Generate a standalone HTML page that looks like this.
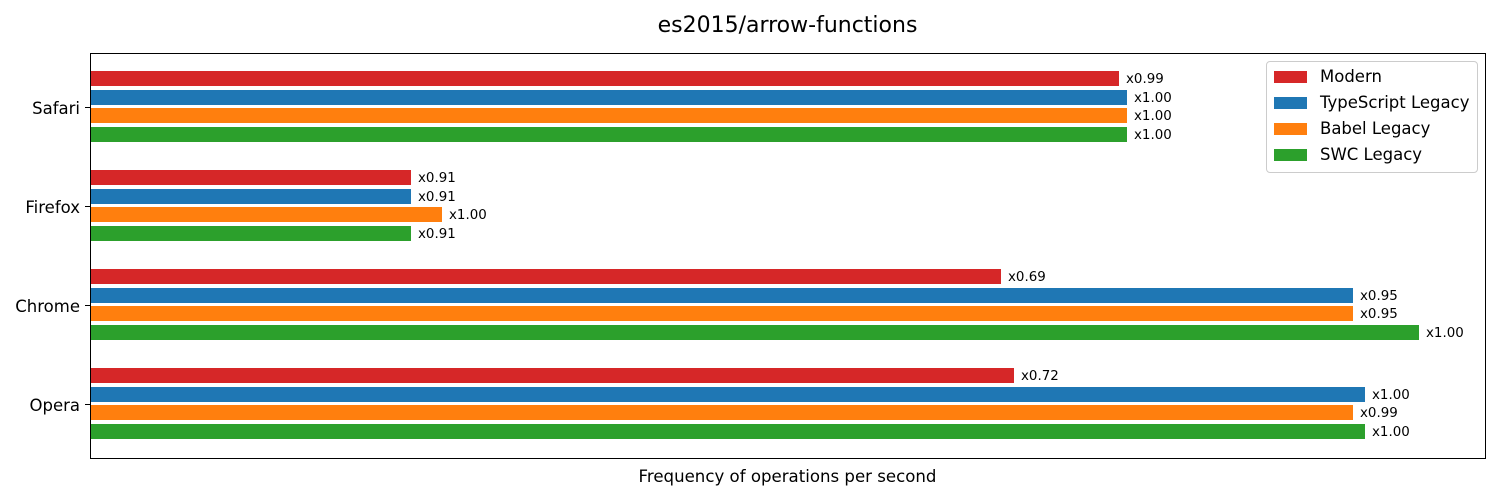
<!DOCTYPE html>
<html><head><meta charset="utf-8"><style>
body{margin:0;width:1500px;height:500px;background:#fff;position:relative;overflow:hidden;font-family:"DejaVu Sans","Liberation Sans",sans-serif;color:#000}
.a{position:absolute}
.bar{position:absolute;left:91px;height:15px}
.lbl{position:absolute;font-size:13.4px;line-height:15px;white-space:nowrap}
.yl{position:absolute;right:1420px;font-size:16.5px;line-height:20px;text-align:right;white-space:nowrap}
.tk{position:absolute;left:85px;width:5px;height:1px;background:#000}
.r{background:#d62728}.b{background:#1f77b4}.o{background:#ff7f0e}.g{background:#2ca02c}
.leg{position:absolute;left:1266px;top:61px;width:210px;height:110px;border:1px solid #ccc;border-radius:4px;background:#fff}
.sw{position:absolute;left:7px;width:33px;height:12px}
.lt{position:absolute;left:53px;font-size:16.5px;line-height:20px;white-space:nowrap}
</style></head><body>
<div class="a" style="left:0;width:1575px;top:13px;text-align:center;font-size:22px;line-height:26px">es2015/arrow-functions</div>
<div class="a" style="left:90px;top:53px;width:1394px;height:404px;border:1px solid #000"></div>
<div class="a" style="left:0;width:1575px;top:467px;text-align:center;font-size:16.6px;line-height:20px">Frequency of operations per second</div>

<div id="c"></div>
<script>
var groups=[["Safari",107,[1119,1127,1127,1127],["x0.99","x1.00","x1.00","x1.00"]],
["Firefox",206,[411,411,442,411],["x0.91","x0.91","x1.00","x0.91"]],
["Chrome",305,[1001,1353,1353,1419],["x0.69","x0.95","x0.95","x1.00"]],
["Opera",404,[1014,1365,1353,1365],["x0.72","x1.00","x0.99","x1.00"]]];
var cls=["r","b","o","g"],off=[-28,-9.3,9.3,28],h="";
groups.forEach(function(g){
 h+='<div class="tk" style="top:'+g[1]+'px"></div>';
 h+='<div class="yl" style="top:'+(g[1]-8)+'px">'+g[0]+'</div>';
 for(var i=0;i<4;i++){var c=g[1]-0.5+off[i];var t=c-7.5;
  h+='<div class="bar '+cls[i]+'" style="top:'+t+'px;width:'+(g[2][i]-91)+'px"></div>';
  h+='<div class="lbl" style="top:'+(t+1)+'px;left:'+(g[2][i]+7)+'px">'+g[3][i]+'</div>';}
});
document.getElementById("c").innerHTML=h;
</script>
<div class="leg">
<div class="sw r" style="top:9px"></div><div class="lt" style="top:5px">Modern</div>
<div class="sw b" style="top:35px"></div><div class="lt" style="top:31px">TypeScript Legacy</div>
<div class="sw o" style="top:61px"></div><div class="lt" style="top:57px">Babel Legacy</div>
<div class="sw g" style="top:87px"></div><div class="lt" style="top:83px">SWC Legacy</div>
</div>
</body></html>
